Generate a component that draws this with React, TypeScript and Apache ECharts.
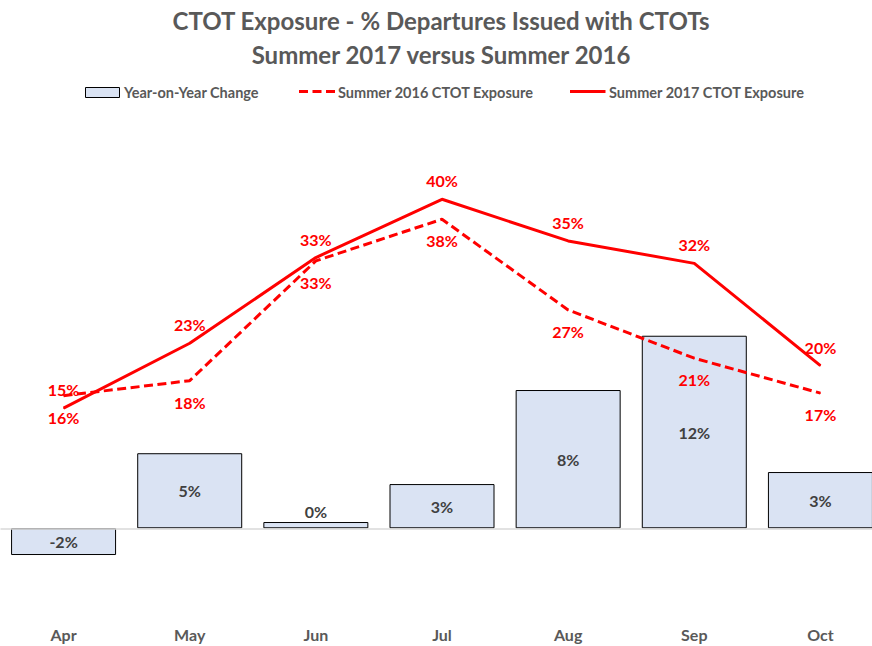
import React, { useEffect, useRef } from "react";
import * as echarts from "echarts";

const months = ["Apr", "May", "Jun", "Jul", "Aug", "Sep", "Oct"];
const yoyChange = [-1.62, 4.55, 0.38, 2.68, 8.38, 11.67, 3.41];
const summer2016 = [16.4, 18.2, 32.6, 37.6, 26.7, 20.9, 16.7];
const summer2017 = [14.9, 22.7, 33.0, 40.0, 35.0, 32.3, 20.0];
const titleLines = [
  "CTOT Exposure - % Departures Issued with CTOTs",
  "Summer 2017 versus Summer 2016",
];
const seriesNames = [
  "Year-on-Year Change",
  "Summer 2016 CTOT Exposure",
  "Summer 2017 CTOT Exposure",
];

const FONT = "Lato, 'Open Sans', sans-serif";
const GRAY = "#595959";
const RED = "#FF0000";
const BAR_FILL = "#DAE3F3";

const pct = (p: any) => Math.round(p.value as number) + "%";

export default function App() {
  const ref = useRef<HTMLDivElement>(null);

  useEffect(() => {
    if (!ref.current) return;
    const chart = echarts.init(ref.current, undefined, { renderer: "svg" });

    const barData = yoyChange.map((v) =>
      Math.abs(v) < 1
        ? { value: v, label: { position: "top", distance: 3 } }
        : v
    );

    const titleStyle = {
      fill: GRAY,
      fontSize: 24,
      fontWeight: "bold",
      fontFamily: FONT,
      align: "center",
      verticalAlign: "middle",
    };
    const legendText = {
      fill: GRAY,
      fontSize: 14.5,
      fontWeight: "bold",
      fontFamily: FONT,
      align: "left",
      verticalAlign: "middle",
    };

    const option: any = {
      animation: false,
      backgroundColor: "#ffffff",
      textStyle: { fontFamily: FONT },
      grid: { left: 0.5, top: 100, width: 883, height: 520, containLabel: false },
      xAxis: {
        type: "category",
        data: months,
        boundaryGap: true,
        axisLine: { show: false },
        axisTick: { show: false },
        splitLine: { show: false },
        axisLabel: {
          color: GRAY,
          fontWeight: "bold",
          fontSize: 16,
          fontFamily: FONT,
          margin: 6,
        },
      },
      yAxis: [
        { type: "value", show: false, min: -5.558, max: 25.958, splitLine: { show: false } },
        { type: "value", show: false, min: -10.565, max: 51.935, splitLine: { show: false } },
      ],
      graphic: [
        { type: "text", x: 441, y: 20.5, style: { ...titleStyle, text: titleLines[0] } },
        { type: "text", x: 441, y: 54.2, style: { ...titleStyle, text: titleLines[1] } },
        {
          type: "rect",
          shape: { x: 85.5, y: 87.5, width: 34, height: 10 },
          style: { fill: BAR_FILL, stroke: "#000", lineWidth: 1 },
        },
        { type: "text", x: 124, y: 92, style: { ...legendText, text: seriesNames[0] } },
        {
          type: "line",
          shape: { x1: 299, y1: 91.5, x2: 335, y2: 91.5 },
          style: { stroke: RED, lineWidth: 3, lineDash: [9, 4.5] },
        },
        { type: "text", x: 338, y: 92, style: { ...legendText, text: seriesNames[1] } },
        {
          type: "line",
          shape: { x1: 570, y1: 91.5, x2: 605.5, y2: 91.5 },
          style: { stroke: RED, lineWidth: 3 },
        },
        { type: "text", x: 609, y: 92, style: { ...legendText, text: seriesNames[2] } },
      ],
      series: [
        {
          name: seriesNames[0],
          type: "bar",
          yAxisIndex: 0,
          data: barData,
          barWidth: 105,
          itemStyle: { color: BAR_FILL, borderColor: "#000", borderWidth: 1 },
          label: {
            show: true,
            position: "inside",
            formatter: pct,
            color: "#404040",
            fontWeight: "bold",
            fontSize: 16,
            fontFamily: FONT,
          },
          markLine: {
            silent: true,
            symbol: ["none", "none"],
            label: { show: false },
            lineStyle: { color: "#D9D9D9", type: "solid", width: 1.5 },
            data: [{ yAxis: 0 }],
          },
        },
        {
          name: seriesNames[1],
          type: "line",
          yAxisIndex: 1,
          data: summer2016,
          symbol: "circle",
          symbolSize: 1,
          itemStyle: { color: RED },
          lineStyle: { color: RED, width: 3, type: [9, 4.5] },
          label: {
            show: true,
            position: "bottom",
            distance: 13,
            formatter: pct,
            color: RED,
            fontWeight: "bold",
            fontSize: 16,
            fontFamily: FONT,
          },
        },
        {
          name: seriesNames[2],
          type: "line",
          yAxisIndex: 1,
          data: summer2017,
          symbol: "circle",
          symbolSize: 1,
          itemStyle: { color: RED },
          lineStyle: { color: RED, width: 3 },
          label: {
            show: true,
            position: "top",
            distance: 10,
            formatter: pct,
            color: RED,
            fontWeight: "bold",
            fontSize: 16,
            fontFamily: FONT,
          },
        },
      ],
    };

    chart.setOption(option);
    return () => chart.dispose();
  }, []);

  return (
    <div
      style={{
        position: "absolute",
        left: 0,
        top: 0,
        width: 872,
        height: 646,
        overflow: "hidden",
        background: "#fff",
      }}
    >
      <div ref={ref} style={{ width: 884, height: 646 }} />
    </div>
  );
}
